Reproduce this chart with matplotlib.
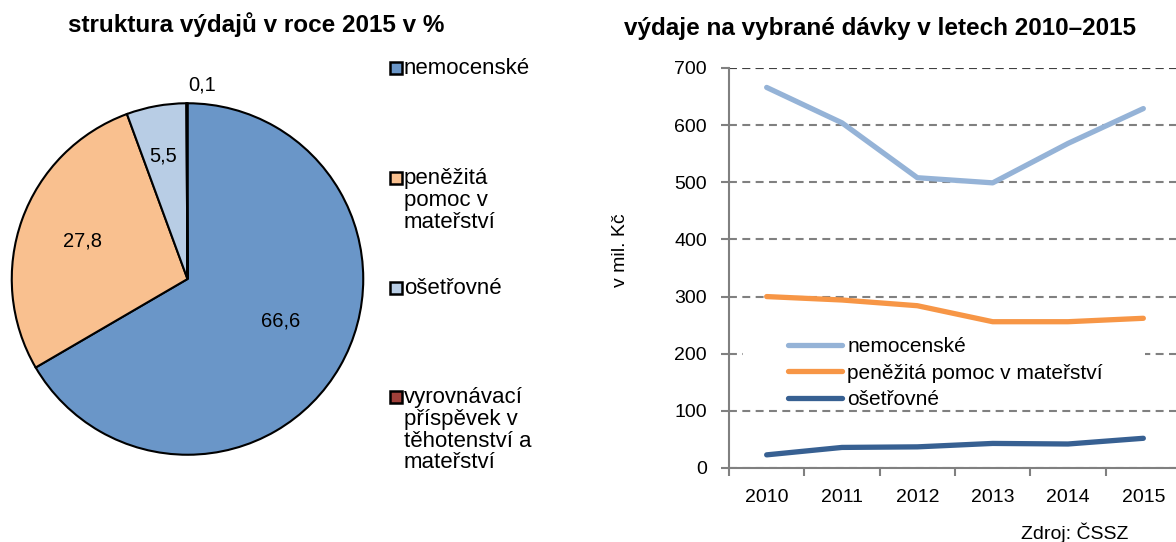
import numpy as np
import matplotlib
matplotlib.use("Agg")
import matplotlib.pyplot as plt
from matplotlib.lines import Line2D
from matplotlib.patches import Rectangle

plt.rcParams['font.family'] = ['Liberation Sans', 'DejaVu Sans']

# pie: structure of expenditure 2015 (%)
pie_labels = ["nemocenské", "peněžitá\npomoc v\nmateřství", "ošetřovné",
              "vyrovnávací\npříspěvek v\ntěhotenství a\nmateřství"]
pie_values = [66.6, 27.8, 5.5, 0.1]
pie_colors = ["#6A96C8", "#F9C08F", "#B8CDE5", "#A0403A"]
pie_text = ["66,6", "27,8", "5,5", "0,1"]

# lines: expenditure on selected benefits 2010-2015 (mil. CZK)
years = ["2010", "2011", "2012", "2013", "2014", "2015"]
nemocenske = [666, 604, 508, 499, 568, 629]
penezita = [300, 294, 284, 256, 256, 262]
osetrovne = [23, 36, 37, 43, 42, 52]
line_names = ["nemocenské", "peněžitá pomoc v mateřství", "ošetřovné"]
line_colors = ["#95B3D7", "#F79646", "#376092"]

fs = 14
fig = plt.figure(figsize=(11.76, 5.42), dpi=100)

# ---- pie ----
W, H = 1176, 542
cx, cy, r = 187.5, 279, 177.5
axp = fig.add_axes([(cx - r) / W, 1 - (cy + r) / H, 2 * r / W, 2 * r / H])
axp.pie(pie_values, colors=pie_colors, startangle=90, counterclock=False,
        wedgeprops=dict(edgecolor="black", linewidth=1.5))
axp.set_xlim(-1.01, 1.01)
axp.set_ylim(-1.01, 1.01)
axp.set_aspect("equal")
axp.axis("off")
label_xy = [(0.53, -0.24), (-0.60, 0.215), (-0.14, 0.70), (0.086, 1.105)]
for t, (x, y) in zip(pie_text, label_xy):
    axp.text(x, y, t, ha="center", va="center", fontsize=14.5, clip_on=False)

fig.text(256 / W, 1 - 25 / H, "struktura výdajů v roce 2015 v %", ha="center",
         va="center", fontsize=17.5, fontweight="bold")

# pie legend, laid out like the original
leg_y = [68, 178, 288, 397]
for lab, col, y in zip(pie_labels, pie_colors, leg_y):
    fig.add_artist(Line2D([396 / W], [1 - y / H], marker="s", markersize=8.5,
                          markerfacecolor=col, markeredgecolor="black",
                          markeredgewidth=1.8, transform=fig.transFigure))
    fig.text(404 / W, 1 - (y - 10) / H, lab, ha="left", va="top",
             fontsize=16, linespacing=1.05)

# ---- line chart ----
ax = fig.add_axes([729 / W, 1 - 468 / H, 452 / W, 400 / H])
x = np.arange(len(years))
for vals, col, name in zip([nemocenske, penezita, osetrovne], line_colors, line_names):
    ax.plot(x, vals, color=col, lw=3.8, label=name, zorder=3,
            solid_capstyle="round", solid_joinstyle="round")
ax.set_xlim(-0.5, len(years) - 0.5)
ax.set_ylim(0, 700)
ax.set_yticks(np.arange(0, 701, 100))
ax.set_xticks(np.arange(-0.5, len(years), 1.0))
ax.set_xticklabels([])
ax.set_xticks(x, minor=True)
ax.set_xticklabels(years, minor=True)
ax.tick_params(axis="x", which="minor", length=0, pad=15, labelsize=fs)
ax.tick_params(axis="x", which="major", length=6, width=1.5, color="#808080")
ax.tick_params(axis="y", length=6, width=1.5, color="#808080", pad=10, labelsize=fs)
for s in ["top", "right"]:
    ax.spines[s].set_visible(False)
for s in ["left", "bottom"]:
    ax.spines[s].set_color("#808080")
    ax.spines[s].set_linewidth(1.5)
ax.set_axisbelow(True)
ax.yaxis.grid(True, color="#808080", lw=1.5, linestyle=(0, (3.8, 2.6)))
ax.axhline(700, color="#404040", lw=1.5, linestyle=(0, (3.8, 2.6)), zorder=1)
ax.set_ylabel("v mil. Kč", fontsize=fs)
ax.yaxis.set_label_coords((629 - 729) / 452, (468 - 250) / 400)

ax.add_patch(Rectangle(((743 - 729) / 452, (468 - 405) / 400), (1145 - 743) / 452,
                       (405 - 333) / 400, transform=ax.transAxes, facecolor="white",
                       edgecolor="none", zorder=1.5))
ax.legend(loc="upper left", bbox_to_anchor=((788 - 729) / 452, (468 - 337) / 400),
          frameon=False, fontsize=15, handlelength=2.6, handletextpad=0.25,
          labelspacing=0.37, borderpad=0, borderaxespad=0)

fig.text(880 / W, 1 - 28 / H, "výdaje na vybrané dávky v letech 2010–2015",
         ha="center", va="center", fontsize=17.5, fontweight="bold")
fig.text(1128 / W, 1 - 533 / H, "Zdroj: ČSSZ", ha="right", va="center", fontsize=14)

fig.savefig("out.png", dpi=100)
